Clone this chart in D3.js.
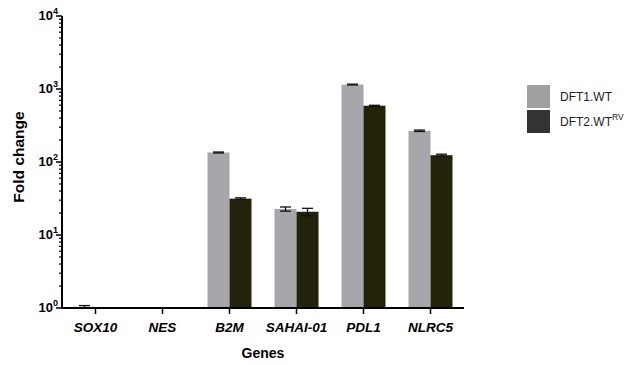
<!DOCTYPE html>
<html>
<head>
<meta charset="utf-8">
<script src="https://cdn.jsdelivr.net/npm/d3@7"></script>
<style>
  body { margin: 0; background: #fff; }
  svg { display: block; font-family: "Liberation Sans", Arial, sans-serif; }
</style>
</head>
<body>
<svg id="chart" width="633" height="365"></svg>
<script>
// Gene expression fold change, two cell lines, log scale
const categories = ["SOX10", "NES", "B2M", "SAHAI-01", "PDL1", "NLRC5"];
const seriesNames = ["DFT1.WT", "DFT2.WT"];
const dft1Values = [1.04, 1, 135, 22.7, 1150, 268];
const dft1Errors = [0.04, 0, 2, 1.5, 15, 6];
const dft2Values = [1, 1, 31.5, 20.8, 590, 124];
const dft2Errors = [0, 0, 0.8, 2.4, 8, 4];
const yTickValues = [1, 10, 100, 1000, 10000];

const barColors = ["#a7a6ab", "#23230a"];
const legendColors = ["#a0a0a0", "#333333"];

const svg = d3.select("#chart");
const plotLeft = 62, plotRight = 464, plotTop = 16, plotBottom = 308;

const x = d3.scaleBand().domain(categories).range([plotLeft, plotRight]);
const y = d3.scaleLog().domain([1, 10000]).range([plotBottom, plotTop]);
const barW = 22;

const series = [
  { values: dft1Values, errors: dft1Errors, offset: -barW },
  { values: dft2Values, errors: dft2Errors, offset: 0 }
];

// bars
series.forEach((s, si) => {
  const rows = categories.map((c, i) => ({ c, v: s.values[i], e: s.errors[i] }))
    .filter(d => d.v > 1);
  svg.append("g").selectAll("rect").data(rows).join("rect")
    .attr("x", d => x(d.c) + x.bandwidth() / 2 + s.offset)
    .attr("y", d => y(d.v))
    .attr("width", barW)
    .attr("height", d => plotBottom - y(d.v))
    .attr("fill", barColors[si]);

  // error bars (upper and lower whiskers with caps)
  const eg = svg.append("g").attr("stroke", "#111").attr("stroke-width", 1.3);
  rows.filter(d => d.e > 0).forEach(d => {
    const cx = x(d.c) + x.bandwidth() / 2 + s.offset + barW / 2;
    const capW = 5.5;
    const yHi = y(d.v + d.e), yLo = y(Math.max(1.0001, d.v - d.e));
    eg.append("line").attr("x1", cx).attr("x2", cx).attr("y1", yHi).attr("y2", yLo);
    eg.append("line").attr("x1", cx - capW).attr("x2", cx + capW).attr("y1", yHi).attr("y2", yHi);
    eg.append("line").attr("x1", cx - capW).attr("x2", cx + capW).attr("y1", yLo).attr("y2", yLo);
  });
});

// y axis with minor log ticks
const yAxisG = svg.append("g").attr("stroke", "#000");
const minor = [];
for (let p = 0; p < 4; p++) for (let k = 2; k <= 9; k++) minor.push(k * Math.pow(10, p));
yAxisG.selectAll("line.minor").data(minor).join("line")
  .attr("x1", plotLeft - 3).attr("x2", plotLeft).attr("y1", d => y(d)).attr("y2", d => y(d))
  .attr("stroke-width", 1.2);
yAxisG.selectAll("line.major").data(yTickValues).join("line")
  .attr("x1", plotLeft - 6).attr("x2", plotLeft).attr("y1", d => y(d)).attr("y2", d => y(d))
  .attr("stroke-width", 1.5);
yAxisG.append("line").attr("x1", plotLeft).attr("x2", plotLeft).attr("y1", plotTop).attr("y2", plotBottom + 1)
  .attr("stroke-width", 2);

const yLabels = svg.append("g").attr("font-weight", "bold").attr("fill", "#000");
yTickValues.forEach(v => {
  const t = yLabels.append("text").attr("x", plotLeft - 4).attr("y", y(v) + 4)
    .attr("text-anchor", "end").attr("font-size", 13);
  t.append("tspan").text("10");
  t.append("tspan").attr("font-size", 9).attr("dy", -6).text(Math.round(Math.log10(v)));
});

// x axis
const xAxisG = svg.append("g").attr("stroke", "#000");
xAxisG.append("line").attr("x1", plotLeft - 1).attr("x2", plotRight).attr("y1", plotBottom).attr("y2", plotBottom)
  .attr("stroke-width", 2);
xAxisG.selectAll("line.tick").data(categories).join("line")
  .attr("x1", d => x(d) + x.bandwidth() / 2).attr("x2", d => x(d) + x.bandwidth() / 2)
  .attr("y1", plotBottom).attr("y2", plotBottom + 6).attr("stroke-width", 1.5);

svg.append("g").selectAll("text").data(categories).join("text")
  .attr("x", d => x(d) + x.bandwidth() / 2).attr("y", 332)
  .attr("text-anchor", "middle").attr("font-size", 13.5)
  .attr("font-weight", "bold").attr("font-style", "italic")
  .text(d => d);

// axis titles
svg.append("text").attr("x", 263).attr("y", 358)
  .attr("text-anchor", "middle").attr("font-size", 14).attr("font-weight", "bold").text("Genes");
svg.append("text").attr("transform", "translate(24,157) rotate(-90)")
  .attr("text-anchor", "middle").attr("font-size", 15.5).attr("font-weight", "bold").text("Fold change");

// legend
const legend = svg.append("g").attr("transform", "translate(527,85)");
seriesNames.forEach((name, i) => {
  legend.append("rect").attr("x", 0).attr("y", i * 25).attr("width", 23).attr("height", 23)
    .attr("fill", legendColors[i]);
  const t = legend.append("text").attr("x", 33).attr("y", i * 25 + 16).attr("font-size", 12)
    .attr("fill", "#222");
  t.append("tspan").text(name);
  if (i === 1) t.append("tspan").attr("font-size", 8.5).attr("dy", -6).text("RV");
});
</script>
</body>
</html>
